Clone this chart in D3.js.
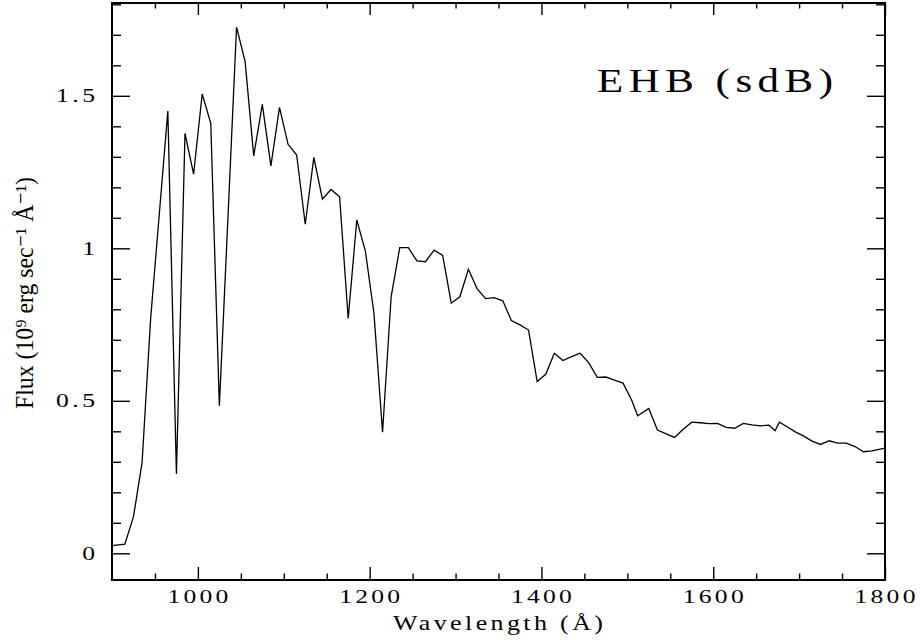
<!DOCTYPE html>
<html>
<head>
<meta charset="utf-8">
<script src="https://cdn.jsdelivr.net/npm/d3@7"></script>
<style>
  html, body { margin: 0; padding: 0; background: #fff; }
  svg { display: block; }
  text { font-family: "Liberation Serif", "DejaVu Serif", serif; fill: #000; }
</style>
</head>
<body>
<svg id="chart" width="921" height="641"></svg>
<script>
// ---- data ----
const wavelength = [900,915,925,935,945,955,965,975,985,995,1005,1015,1025,1035,1045,1055,1065,1075,1085,1095,
  1105,1115,1125,1135,1145,1155,1165,1175,1185,1195,1205,1215,1225,1235,1245,1255,1265,1275,1285,1295,
  1305,1315,1325,1335,1345,1355,1365,1375,1385,1395,1405,1415,1425,1435,1445,1455,1465,1475,1485,1495,
  1505,1512,1525,1535,1555,1565,1575,1585,1595,1605,1615,1625,1635,1645,1655,1665,1672,1677,1686,1695,
  1705,1715,1725,1735,1745,1755,1765,1775,1785,1800];
const flux = [0.025,0.030,0.12,0.297,0.77,1.11,1.45,0.26,1.377,1.243,1.506,1.41,0.484,1.10,1.725,1.612,1.303,1.472,1.27,1.462,
  1.341,1.306,1.079,1.298,1.161,1.193,1.169,0.770,1.093,0.991,0.787,0.397,0.841,1.002,1.002,0.959,0.956,0.994,0.977,0.820,
  0.841,0.931,0.868,0.835,0.838,0.828,0.763,0.749,0.732,0.563,0.587,0.656,0.632,0.645,0.656,0.625,0.577,0.578,0.568,0.558,
  0.503,0.451,0.475,0.404,0.380,0.407,0.430,0.428,0.425,0.426,0.413,0.410,0.426,0.421,0.418,0.420,0.402,0.430,0.415,0.399,
  0.385,0.368,0.357,0.369,0.361,0.361,0.350,0.333,0.336,0.345];
const xMajorTicks = [1000,1200,1400,1600,1800];
const xMinorTicks = [950,1050,1100,1150,1250,1300,1350,1450,1500,1550,1650,1700,1750];
const yMajorTicks = [0,0.5,1,1.5];
const yMajorLabels = ["0","0.5","1","1.5"];
const yMinorTicks = [0.1,0.2,0.3,0.4,0.6,0.7,0.8,0.9,1.1,1.2,1.3,1.4,1.6,1.7,1.8];
const xTitle = "Wavelength (Å)";
const yTitle = "Flux (10⁹ erg sec⁻¹ Å⁻¹)";
const annotation = "EHB (sdB)";

// ---- layout ----
const L = 112, R = 885, T = 3, B = 580;
const svg = d3.select("#chart");
const x = d3.scaleLinear().domain([900, 1800]).range([L, R]);
const y = d3.scaleLinear().domain([-0.0875, 1.8043]).range([B, T]);

// ticks (inward) via axes
function tickAxis(axisFn, scale, vals, size, tx, ty) {
  const g = svg.append("g").attr("transform", `translate(${tx},${ty})`)
    .call(axisFn(scale).tickValues(vals).tickSize(size).tickFormat(""));
  g.select(".domain").remove();
  g.selectAll(".tick line").attr("stroke", "#000").attr("stroke-width", 1.4);
  return g;
}
tickAxis(d3.axisBottom, x, xMajorTicks, -13, 0, B);
tickAxis(d3.axisBottom, x, xMinorTicks, -6.5, 0, B);
tickAxis(d3.axisTop, x, xMajorTicks, -12, 0, T);
tickAxis(d3.axisTop, x, xMinorTicks, -5.5, 0, T);
tickAxis(d3.axisLeft, y, yMajorTicks, -18, L, 0);
tickAxis(d3.axisLeft, y, yMinorTicks, -9, L, 0);
tickAxis(d3.axisRight, y, yMajorTicks, -18, R, 0);
tickAxis(d3.axisRight, y, yMinorTicks, -9, R, 0);

// frame
svg.append("rect").attr("x", L).attr("y", T).attr("width", R - L).attr("height", B - T)
  .attr("fill", "none").attr("stroke", "#000").attr("stroke-width", 2);

// data line
const line = d3.line().x((d, i) => x(wavelength[i])).y(d => y(d));
svg.append("path").datum(flux).attr("d", line)
  .attr("fill", "none").attr("stroke", "#000").attr("stroke-width", 1.3)
  .attr("stroke-linejoin", "miter");

// wide (Hershey-like) text helper: horizontal stretch + total width
function wideText(parent, px, py, anchor, size, sx, width, str) {
  const t = parent.append("text")
    .attr("transform", `translate(${px},${py}) scale(${sx},1)`)
    .attr("text-anchor", anchor).attr("font-size", size)
    .text(str);
  if (width && str.length > 1) t.attr("textLength", width / sx).attr("lengthAdjust", "spacing");
  return t;
}

// tick labels
const gx = svg.append("g");
xMajorTicks.forEach(d => wideText(gx, x(d), 603, "middle", 19, 1.35, 61, String(d)));
const gy = svg.append("g");
yMajorTicks.forEach((d, i) => {
  const s = yMajorLabels[i];
  wideText(gy, 95, y(d) + 6.5, "end", 19, 1.35, s.length > 1 ? 39 : 0, s);
});

// axis titles
wideText(svg, 498, 630, "middle", 20, 1.3, 210, xTitle);

svg.append("text")
  .attr("transform", "translate(33,293) rotate(-90)")
  .attr("text-anchor", "middle").attr("font-size", 25)
  .attr("textLength", 232).attr("lengthAdjust", "spacingAndGlyphs")
  .text(yTitle);

// annotation
wideText(svg, 597, 92, "start", 33, 1.3, 236, annotation);
</script>
</body>
</html>
